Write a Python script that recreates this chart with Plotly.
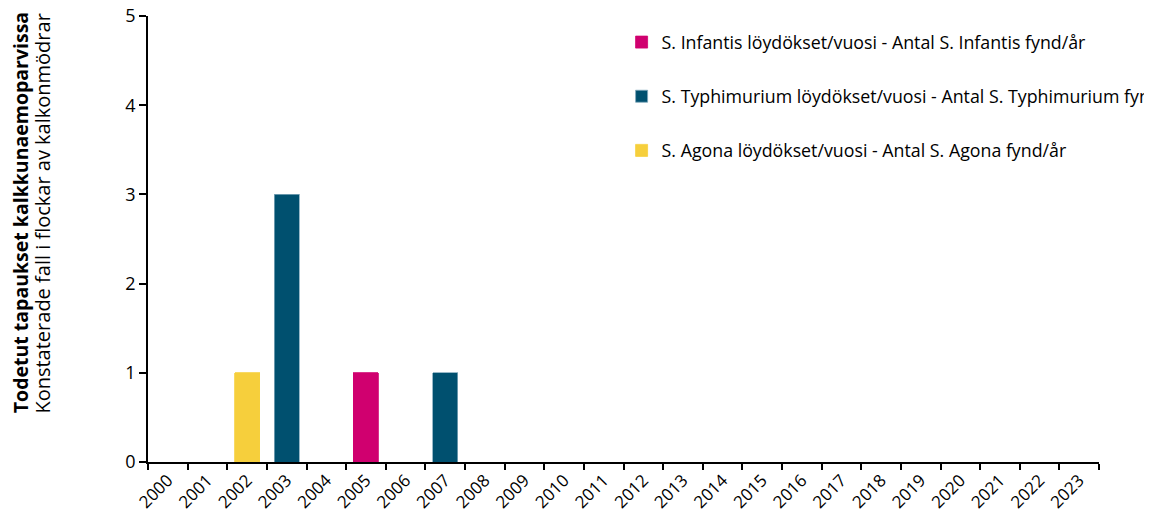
import plotly.graph_objects as go

years = [str(y) for y in range(2000, 2024)]
infantis = [0, 0, 0, 0, 0, 1, 0, 0] + [0] * 16
typhimurium = [0, 0, 0, 3, 0, 0, 0, 1] + [0] * 16
agona = [0, 0, 1, 0, 0, 0, 0, 0] + [0] * 16

names = {
    "infantis": "S. Infantis löydökset/vuosi - Antal S. Infantis fynd/år",
    "typhimurium": "S. Typhimurium löydökset/vuosi - Antal S. Typhimurium fynd/år",
    "agona": "S. Agona löydökset/vuosi - Antal S. Agona fynd/år",
}
ytitle_fi = "Todetut tapaukset kalkkunaemoparvissa"
ytitle_sv = "Konstaterade fall i flockar av kalkonmödrar"
colors = {"infantis": "#D0006F", "typhimurium": "#00506F", "agona": "#F6CF3C"}
edges = {"infantis": "#D0006F", "typhimurium": "#7FA7BA", "agona": "#F6CF3C"}

fig = go.Figure()
for key, vals in [("infantis", infantis), ("typhimurium", typhimurium), ("agona", agona)]:
    fig.add_trace(go.Bar(
        x=years, y=[v if v else None for v in vals], name=names[key], legendgroup=key,
        marker=dict(color=colors[key], line=dict(color=edges[key], width=0.8)),
    ))

font = "'Open Sans', sans-serif"
fig.update_layout(
    width=1152, height=517,
    barmode="stack", bargap=0.37,
    plot_bgcolor="white", paper_bgcolor="white",
    margin=dict(l=140, r=61, t=8, b=63, autoexpand=False),
    font=dict(family=font, size=16, color="#000000"),
    showlegend=True,
    legend=dict(x=0.498, y=0.982, xanchor="left", yanchor="top",
                traceorder="grouped", tracegroupgap=28,
                font=dict(size=17.8), bgcolor="rgba(0,0,0,0)",
                itemwidth=30),
    xaxis=dict(type="category", tickangle=-45, showline=True, automargin=False,
               linecolor="#000000", linewidth=1.5, ticks="outside",
               tickson="boundaries", ticklen=6, tickwidth=1.5,
               tickcolor="#000000", showgrid=False,
               tickfont=dict(size=17)),
    yaxis=dict(range=[0, 5], dtick=1, showline=True, linecolor="#000000",
               automargin=False, ticklabeloverflow="allow",
               linewidth=1.5, ticks="outside", ticklen=7, tickwidth=1.5,
               tickcolor="#000000", showgrid=False, zeroline=False,
               tickfont=dict(size=18)),
    annotations=[
        dict(text="<b>" + ytitle_fi + "</b>", xref="paper", yref="paper",
             x=-0.1346, y=0.56, xanchor="center", yanchor="middle",
             textangle=-90, showarrow=False, font=dict(size=19.5)),
        dict(text=ytitle_sv, xref="paper", yref="paper",
             x=-0.1104, y=0.557, xanchor="center", yanchor="middle",
             textangle=-90, showarrow=False, font=dict(size=20)),
    ],
)

fig.write_html("out.html")
